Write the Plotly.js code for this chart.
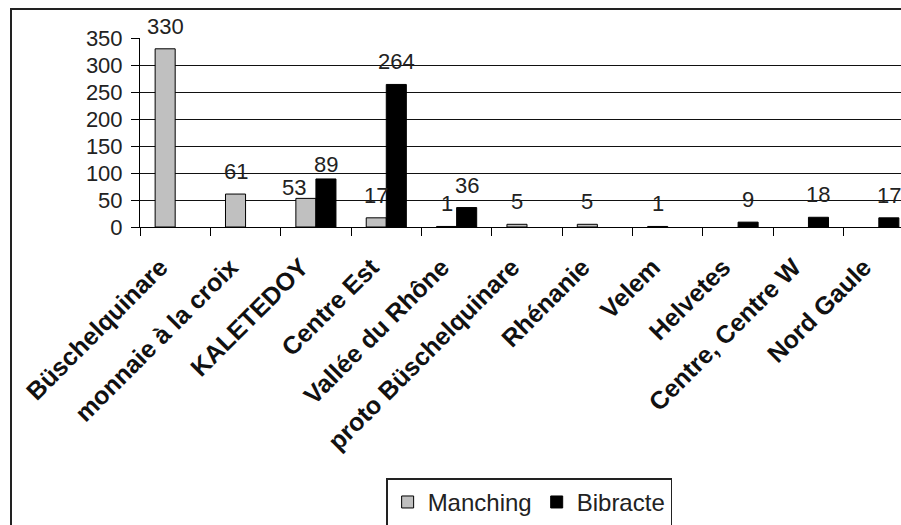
<!DOCTYPE html>
<html><head><meta charset="utf-8">
<script src="https://cdn.plot.ly/plotly-3.0.1.min.js"></script>
<style>
html,body{margin:0;padding:0;overflow:hidden;background:#fff;width:901px;height:525px;}
#frame{position:absolute;left:10px;top:8px;width:1000px;height:600px;border:2px solid #222;pointer-events:none;}
#chart{position:absolute;left:0;top:0;}
</style></head>
<body>
<div id="chart"></div>
<div id="frame"></div>
<script>
const categories = ["Büschelquinare", "monnaie à la croix", "KALETEDOY", "Centre Est", "Vallée du Rhône", "proto Büschelquinare", "Rhénanie", "Velem", "Helvetes", "Centre, Centre W", "Nord Gaule"];
const manching = [330, 61, 53, 17, 1, 5, 5, 1, null, null, null];
const bibracte = [null, null, 89, 264, 36, null, null, null, 9, 18, 17];
const yTicks = [0, 50, 100, 150, 200, 250, 300, 350];

const font = "Liberation Sans, Arial, sans-serif";
const traces = [
  {type:'bar', name:'Manching', x:categories, y:manching,
   marker:{color:'#c0c0c0', line:{color:'#000', width:1}}},
  {type:'bar', name:'Bibracte', x:categories, y:bibracte,
   marker:{color:'#000', line:{color:'#000', width:1}}}
];

// label tweaks (Excel moved two overlapping labels)
const tweak = {"Manching|KALETEDOY":{dx:-12, dy:-12}, "Bibracte|KALETEDOY":{dx:0, dy:-8}};
const annotations = [];
[[manching,'Manching',-10],[bibracte,'Bibracte',10]].forEach(([vals,name,xs])=>{
  vals.forEach((v,i)=>{
    if(v===null) return;
    const t = tweak[name+'|'+categories[i]] || {dx:0, dy:0};
    annotations.push({x:categories[i], y:v, text:String(v), showarrow:false,
      xanchor:'center', yanchor:'bottom', xshift:xs+t.dx, yshift:8+t.dy,
      font:{family:font, size:22, color:'#222'}});
  });
});

const layout = {
  width:920, height:525,
  margin:{l:140, r:6, t:38, b:298, autoexpand:false},
  paper_bgcolor:'#fff', plot_bgcolor:'#fff',
  barmode:'group', bargap:0.43, bargroupgap:0,
  showlegend:true,
  legend:{orientation:'h', x:0.318, y:-1.33, xanchor:'left', yanchor:'top',
    bordercolor:'#222', borderwidth:1.5, font:{family:font, size:24, color:'#222'},
    traceorder:'normal', itemwidth:30},
  xaxis:{type:'category', automargin:false, showline:true, linecolor:'#000', linewidth:1,
    ticks:'outside', tickson:'boundaries', ticklen:8, tickcolor:'#000',
    tickvals:categories, ticktext:categories.map(c=>c+'\u00a0\u00a0\u00a0'),
    tickangle:-45, ticklabelstandoff:0,
    tickfont:{family:font, size:25, color:'#111', weight:'bold'},
    showgrid:false, fixedrange:true},
  yaxis:{range:[0,350], automargin:false, tickvals:yTicks, showline:true, linecolor:'#000', linewidth:1,
    ticks:'outside', ticklen:8, tickcolor:'#000', ticklabelstandoff:4,
    tickfont:{family:font, size:22, color:'#222'},
    showgrid:true, gridcolor:'#111', gridwidth:1, zeroline:false, fixedrange:true},
  annotations:annotations
};
Plotly.newPlot('chart', traces, layout, {displayModeBar:false, staticPlot:true});
</script>
</body></html>
